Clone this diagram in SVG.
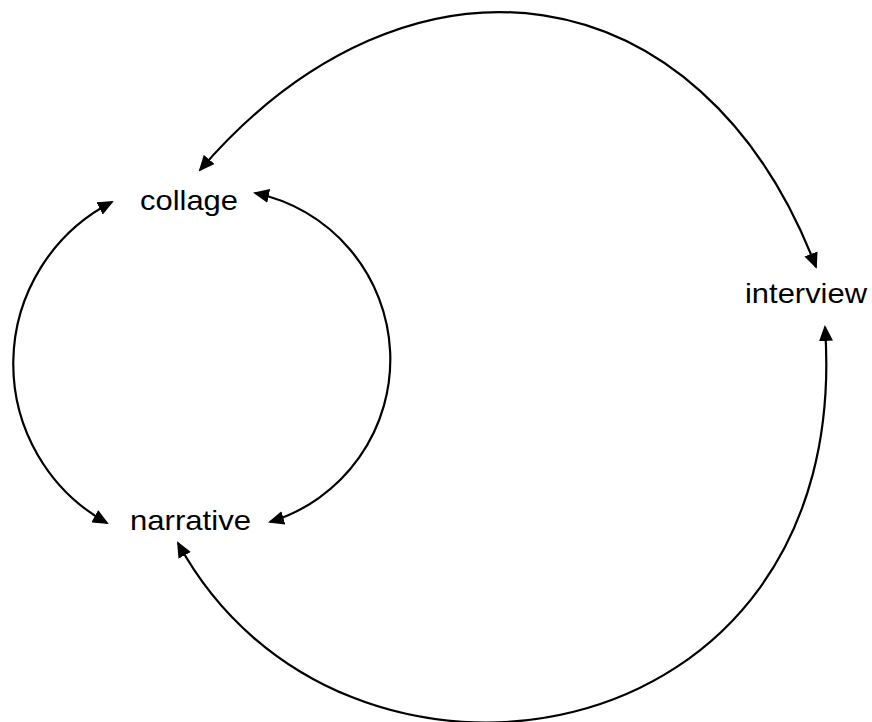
<svg xmlns="http://www.w3.org/2000/svg" width="872" height="722" viewBox="0 0 872 722">
  <style>
    .label { font-family: "Liberation Sans", Arial, sans-serif; font-size: 28px; fill: #000; }
    .link { fill: none; stroke: #000; stroke-width: 2.2; marker-start: url(#head); marker-end: url(#head); }
  </style>
  <defs>
    <marker id="head" viewBox="0 0 16 14" refX="14" refY="7" markerWidth="16" markerHeight="14" markerUnits="userSpaceOnUse" orient="auto-start-reverse">
      <path d="M0,0 L16,7 L0,14 z" fill="#000"/>
    </marker>
  </defs>
  <rect width="872" height="722" fill="#fff"/>

  <g id="connectors">
    <!-- collage <-> narrative, outer left bow -->
    <path class="link" d="M112,202 A182,182 0 0 0 107,523"/>
    <!-- collage <-> narrative, inner right bow -->
    <path class="link" d="M255,193 A170,170 0 0 1 270,522"/>
    <!-- collage <-> interview, over the top -->
    <path class="link" d="M200,170 C408.6,-72.6 701.8,-31.9 816,267"/>
    <!-- narrative <-> interview, under the bottom -->
    <path class="link" d="M178,543 C339.8,841.9 855.8,766.1 825,327"/>
  </g>

  <g id="collage">
    <text class="label" x="140" y="210" textLength="98" lengthAdjust="spacingAndGlyphs">collage</text>
  </g>
  <g id="narrative">
    <text class="label" x="130" y="530" textLength="121" lengthAdjust="spacingAndGlyphs">narrative</text>
  </g>
  <g id="interview">
    <text class="label" x="745" y="303" textLength="122" lengthAdjust="spacingAndGlyphs">interview</text>
  </g>
</svg>
